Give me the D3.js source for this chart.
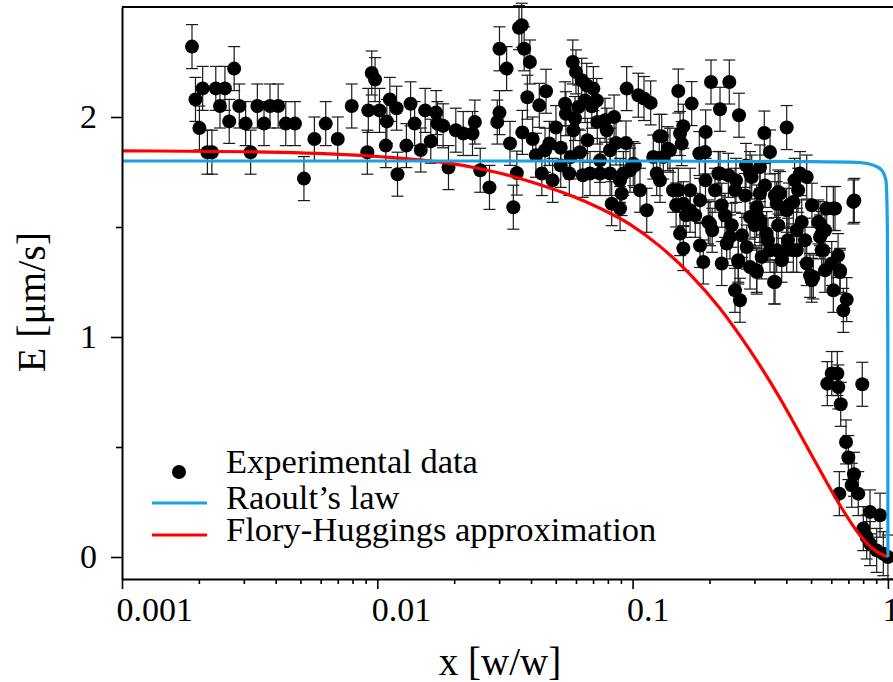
<!DOCTYPE html>
<meta charset="utf-8">
<style>
body { margin: 0; background: #fff; }
.axis path, .axis line { stroke: #000; stroke-width: 2px; }
.axis text { font-family: "Liberation Serif", serif; font-size: 34px; fill: #000; }
.err { stroke: #1a1a1a; stroke-width: 1.2px; }
.dot { fill: #000; }
.curve { fill: none; stroke-width: 3.2px; }
.legend text { font-family: "Liberation Serif", serif; font-size: 34.5px; fill: #000; }
.label { font-family: "Liberation Serif", serif; font-size: 39px; fill: #000; }
</style>
<body>
<script src="https://d3js.org/d3.v7.min.js"></script>
<script>

// experimental data: mass fraction x [w/w] and evaporation rate E [um/s]
var expX = [
  0.00188, 0.00194, 0.00201, 0.00207, 0.00216, 0.00225, 0.00233, 0.00242, 0.00253, 0.00263,
  0.00275, 0.00288, 0.00305, 0.00319, 0.00339, 0.0036, 0.0038, 0.00409, 0.00438, 0.00476,
  0.00516, 0.00567, 0.00628, 0.0070, 0.00794, 0.00914, 0.00922, 0.00951, 0.0098, 0.0102,
  0.0108, 0.0109, 0.0112, 0.0119, 0.0120, 0.0130, 0.0135, 0.0140, 0.0148, 0.0154,
  0.0162, 0.0170, 0.0172, 0.0181, 0.0190,
  0.0203, 0.0217, 0.0236, 0.0241, 0.0253, 0.0275, 0.0295, 0.0301, 0.0301, 0.0321,
  0.0331, 0.0341, 0.0352, 0.0359, 0.0368, 0.0370, 0.0376, 0.0387, 0.0396, 0.0406,
  0.0418, 0.0431, 0.0441, 0.0458, 0.0472, 0.0486, 0.0501, 0.0523, 0.0544, 0.0548,
  0.0565, 0.0572, 0.0583, 0.0586, 0.0595, 0.0600, 0.0613, 0.0622, 0.0632, 0.0638,
  0.0651, 0.0661, 0.0665, 0.0681, 0.0692, 0.0702, 0.0724, 0.0727, 0.0745, 0.078,
  0.0792, 0.0816, 0.0828, 0.0846, 0.0861, 0.0893, 0.0906, 0.092, 0.0942, 0.0948,
  0.0977, 0.1006, 0.1053, 0.1069, 0.1108, 0.1136, 0.1177, 0.1205, 0.1243, 0.1272,
  0.1319, 0.1373,
  0.130, 0.1401, 0.151, 0.1534, 0.158, 0.1557, 0.1704, 0.1825, 0.1921, 0.1933,
  0.2028, 0.220, 0.2392, 0.2166, 0.2371, 0.2541, 0.2611, 0.2781, 0.2928, 0.3155,
  0.328, 0.3453, 0.4014, 0.3722, 0.4526, 0.4808, 0.5759, 0.6112, 0.7387,
  0.1534, 0.158, 0.1892, 0.151, 0.158, 0.1679, 0.1837, 0.1979, 0.2103, 0.220,
  0.2234, 0.2337, 0.2445, 0.2234, 0.2518, 0.2634, 0.2594, 0.2799, 0.2884, 0.2884,
  0.3063, 0.3155, 0.3155, 0.2884, 0.3063, 0.3204, 0.3453, 0.358, 0.3668, 0.3779,
  0.3837, 0.4014, 0.4014, 0.4261, 0.4393, 0.4596, 0.4808, 0.4953, 0.5029, 0.5338,
  0.5421, 0.5585, 0.6025, 0.6207, 0.6112, 0.6493, 0.6689, 0.6897, 0.5504, 0.4393,
  0.3352, 0.201, 0.2407, 0.2594, 0.3063, 0.3155, 0.3613, 0.3668, 0.4261, 0.5102,
  0.5421, 0.5504, 0.5671, 0.6493, 0.7321, 0.144, 0.148, 0.162, 0.276, 0.306,
  0.361, 0.410, 0.445,
  0.176, 0.205, 0.230, 0.268, 0.301, 0.339, 0.372, 0.406, 0.4735, 0.504,
  0.567, 0.638, 0.168, 0.193, 0.252, 0.330, 0.431, 0.128, 0.0893, 0.0745,
  0.0523, 0.0454, 0.0816, 0.102, 0.1837,
  0.6025, 0.579, 0.6337, 0.6394, 0.6534, 0.7937, 0.6854, 0.6998, 0.7367, 0.7215,
  0.6452, 0.7656, 0.851, 0.9313, 0.8009, 0.826, 0.851, 0.9039, 0.9594, 1.0
];
var expE = [
  2.32, 2.08, 1.95, 2.13, 1.84, 1.84, 2.13, 2.05, 2.13, 1.98,
  2.22, 2.05, 1.97, 1.84, 2.05, 1.97, 2.05, 2.05, 1.97, 1.97,
  1.72, 1.90, 1.97, 1.90, 2.05, 1.84, 2.03, 2.20, 2.17, 2.03,
  1.87, 1.98, 2.08, 2.04, 1.74, 1.87, 2.06, 1.97, 1.85, 2.03,
  1.89, 2.02, 1.97, 1.96, 1.77,
  1.94, 1.925, 1.925, 1.977, 1.758, 1.68, 1.977, 2.02, 2.31, 2.22,
  1.88, 1.59, 1.745, 2.406, 2.417, 1.93, 2.31, 2.09, 2.25, 1.90,
  1.826, 2.053, 1.743, 2.117, 1.88, 1.712, 1.952, 1.86, 2.06, 2.015,
  1.743, 1.818, 2.25, 1.94, 1.993, 2.205, 2.045, 1.84, 2.167, 1.735,
  2.075, 2.144, 1.894, 1.743, 2.049, 2.129, 2.075, 1.977, 1.743, 1.985,
  1.94, 1.743, 1.606, 2.0, 1.882, 1.584, 1.652, 1.743, 1.882, 2.129,
  1.758, 1.788, 2.099, 1.667, 2.084, 1.576, 2.064, 1.818, 1.743, 1.912,
  1.818, 1.856,
  1.912, 1.849, 2.118, 1.925, 1.958, 1.879, 2.061, 1.834, 1.841, 1.932,
  2.159, 2.035, 2.159, 1.743, 1.735, 1.712, 2.008, 1.78, 1.727, 1.773,
  1.927, 1.841, 1.952, 1.659, 1.743, 1.727, 1.584, 1.584, 1.621,
  1.47, 1.402, 1.341, 1.667, 1.606, 1.576, 1.621, 1.523, 1.667, 1.743,
  1.599, 1.425, 1.508, 1.334, 1.212, 1.167, 1.349, 1.409, 1.545, 1.743,
  1.591, 1.652, 1.515, 1.318, 1.303, 1.364, 1.394, 1.25, 1.606, 1.652,
  1.349, 1.576, 1.394, 1.614, 1.394, 1.523, 1.334, 1.28, 1.258, 1.523,
  1.455, 1.394, 1.334, 1.584, 1.212, 1.303, 1.121, 1.17, 1.394, 1.485,
  1.47, 1.515, 1.455, 1.341, 1.295, 1.53, 1.25, 1.394, 1.394, 1.273,
  1.515, 1.47, 1.303, 1.295, 1.614, 1.667, 1.60, 1.553, 1.643, 1.553,
  1.643, 1.60, 1.667,
  1.553, 1.485, 1.553, 1.462, 1.508, 1.44, 1.508, 1.44, 1.44, 1.599,
  1.485, 1.37, 1.667, 1.712, 1.667, 1.689, 1.712, 1.712, 1.712, 1.803,
  1.78, 1.849, 1.849, 1.78, 1.416,
  0.834, 0.788, 0.834, 0.773, 0.694, 0.785, 0.523, 0.452, 0.376, 0.326,
  0.288, 0.288, 0.205, 0.19, 0.129, 0.091, 0.061, 0.03, 0.015, 0.0
];
var errE = 0.1;

// Raoult's law
var raoultX = [0.001, 0.01, 0.1, 0.5, 0.78, 0.88, 0.946, 0.983, 0.995, 0.999, 1.0];
var raoultE = [1.80, 1.80, 1.80, 1.797, 1.793, 1.78, 1.758, 1.71, 1.5, 1.0, 0.0];

// Flory-Huggins approximation
var floryX = [0.001, 0.00317, 0.00782, 0.0147, 0.0193, 0.0253, 0.0331, 0.0434, 0.0569, 0.0745,
  0.0977, 0.128, 0.168, 0.22, 0.288, 0.378, 0.453, 0.542, 0.649, 0.777, 0.89, 1.0];
var floryE = [1.846, 1.842, 1.828, 1.805, 1.789, 1.765, 1.733, 1.692, 1.644, 1.585,
  1.512, 1.412, 1.285, 1.13, 0.94, 0.721, 0.558, 0.394, 0.235, 0.099, 0.03, 0.0];

var xMajor = [0.001, 0.01, 0.1, 1];
var xMajorLabels = ["0.001", "0.01", "0.1", "1"];
var xMinor = [0.002, 0.003, 0.004, 0.005, 0.006, 0.007, 0.008, 0.009,
  0.02, 0.03, 0.04, 0.05, 0.06, 0.07, 0.08, 0.09,
  0.2, 0.3, 0.4, 0.5, 0.6, 0.7, 0.8, 0.9];
var yMajor = [0, 1, 2];
var yMinor = [0.5, 1.5];

var legendLabels = ["Experimental data", "Raoult\u2019s law", "Flory-Huggings approximation"];
var blue = "#1ba1e2", red = "#ff0000";

var width = 893, height = 682;
var plotLeft = 122, plotTop = 7, plotBottom = 579;

var x = d3.scaleLog().domain([0.001, 1.047]).range([plotLeft, width]);
var y = d3.scaleLinear().domain([-0.1, 2.5]).range([plotBottom, plotTop]);

var svg = d3.select("body").append("svg")
    .attr("width", width)
    .attr("height", height);

// experimental points with error bars
var pts = expX.map(function(d, i) { return {x: d, e: expE[i]}; });

var bars = svg.append("g");
pts.forEach(function(d) {
  var cx = x(d.x), y0 = y(d.e - errE), y1 = y(d.e + errE);
  bars.append("line").attr("class", "err")
      .attr("x1", cx).attr("x2", cx).attr("y1", y0).attr("y2", y1);
  bars.append("line").attr("class", "err")
      .attr("x1", cx - 6).attr("x2", cx + 6).attr("y1", y0).attr("y2", y0);
  bars.append("line").attr("class", "err")
      .attr("x1", cx - 6).attr("x2", cx + 6).attr("y1", y1).attr("y2", y1);
});

svg.append("g").selectAll("circle")
    .data(pts)
  .enter().append("circle")
    .attr("class", "dot")
    .attr("r", 7)
    .attr("cx", function(d) { return x(d.x); })
    .attr("cy", function(d) { return y(d.e); });

// model curves
var line = d3.line()
    .x(function(d) { return x(d[0]); })
    .y(function(d) { return y(d[1]); })
    .curve(d3.curveMonotoneX);

svg.append("path")
    .datum(floryX.map(function(d, i) { return [d, floryE[i]]; }))
    .attr("class", "curve")
    .attr("stroke", red)
    .attr("d", line);

svg.append("path")
    .datum(raoultX.map(function(d, i) { return [d, raoultE[i]]; }))
    .attr("class", "curve")
    .attr("stroke", blue)
    .attr("d", line);

// x axis
var xAxis = svg.append("g")
    .attr("class", "axis")
    .attr("transform", "translate(0," + plotBottom + ")")
    .call(d3.axisBottom(x)
        .tickValues(xMajor)
        .tickSize(10)
        .tickSizeOuter(0)
        .tickPadding(8)
        .tickFormat(function(d, i) { return xMajorLabels[i]; }));
xAxis.selectAll("text").attr("text-anchor", "start").attr("dx", -6);
xAxis.selectAll("line").style("stroke-width", "1.6px");

svg.append("g")
    .attr("class", "axis")
    .attr("transform", "translate(0," + plotBottom + ")")
    .call(d3.axisBottom(x).tickValues(xMinor).tickSize(5).tickFormat(""))
  .call(function(g) { g.select(".domain").remove(); })
  .selectAll("line").style("stroke-width", "1.6px");

// y axis
var yAxis = svg.append("g")
    .attr("class", "axis")
    .attr("transform", "translate(" + plotLeft + ",0)")
    .call(d3.axisLeft(y)
        .tickValues(yMajor)
        .tickSize(11)
        .tickSizeOuter(0)
        .tickPadding(14)
        .tickFormat(d3.format("d")));
yAxis.selectAll("line").style("stroke-width", "1.6px");

svg.append("g")
    .attr("class", "axis")
    .attr("transform", "translate(" + plotLeft + ",0)")
    .call(d3.axisLeft(y).tickValues(yMinor).tickSize(6).tickFormat(""))
  .call(function(g) { g.select(".domain").remove(); })
  .selectAll("line").style("stroke-width", "1.6px");

// top frame
svg.append("line")
    .attr("x1", plotLeft).attr("x2", width)
    .attr("y1", plotTop).attr("y2", plotTop)
    .attr("stroke", "#000").attr("stroke-width", 2);

// axis titles
svg.append("text")
    .attr("class", "label")
    .attr("x", 500).attr("y", 675)
    .attr("text-anchor", "middle")
    .text("x [w/w]");

svg.append("text")
    .attr("class", "label")
    .style("font-size", "40px")
    .attr("transform", "translate(45,302) rotate(-90)")
    .attr("text-anchor", "middle")
    .text("E [\u03bcm/s]");

// legend
var legend = svg.append("g").attr("class", "legend");
legend.append("circle").attr("cx", 179).attr("cy", 472).attr("r", 7).attr("fill", "#000");
legend.append("line").attr("x1", 152).attr("x2", 207).attr("y1", 503).attr("y2", 503)
    .attr("stroke", blue).attr("stroke-width", 3.2);
legend.append("line").attr("x1", 152).attr("x2", 207).attr("y1", 535).attr("y2", 535)
    .attr("stroke", red).attr("stroke-width", 3.2);
legend.selectAll("text")
    .data(legendLabels)
  .enter().append("text")
    .attr("x", 226)
    .attr("y", function(d, i) { return [473, 509, 541][i]; })
    .text(function(d) { return d; });

</script>
</body>
